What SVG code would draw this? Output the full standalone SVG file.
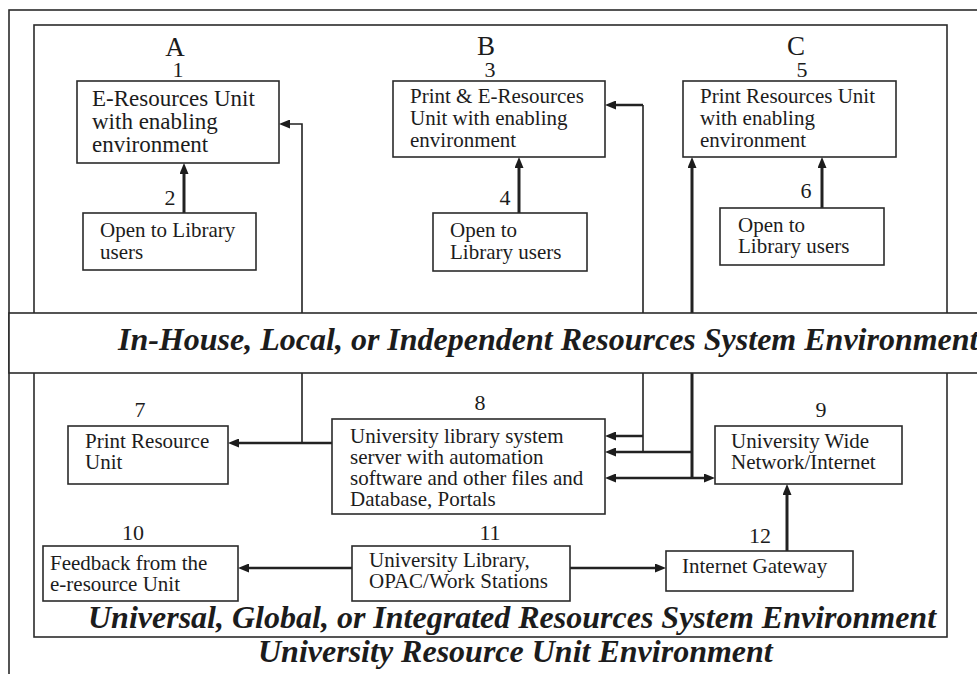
<svg xmlns="http://www.w3.org/2000/svg" width="977" height="674" viewBox="0 0 977 674">
<style>
text{font-family:"Liberation Serif","Times New Roman",serif;fill:#1c1c1c}
.t{font-size:21px}
.t1{font-size:23px}
.num{font-size:22px;text-anchor:middle}
.big{font-size:27px;text-anchor:middle}
.title{font-size:32px;font-weight:bold;font-style:italic}
.box{fill:#fff;stroke:#2b2b2b;stroke-width:1.6}
.frame{fill:none;stroke:#2b2b2b;stroke-width:1.6}
.band{fill:#fff;stroke:#2b2b2b;stroke-width:1.6}
.thin{fill:none;stroke:#222;stroke-width:1.6}
.mid{fill:none;stroke:#222;stroke-width:2.5}
.thick{fill:none;stroke:#222;stroke-width:3}
</style>
<defs>
<marker id="ah" viewBox="0 0 11 9" refX="5" refY="4.5" markerWidth="11" markerHeight="9" markerUnits="userSpaceOnUse" orient="auto-start-reverse">
<path d="M0,0 L11,4.5 L0,9 z" fill="#1c1c1c"/>
</marker>
</defs>
<rect class="frame" x="9" y="10" width="1000" height="700"/>
<rect class="frame" x="34" y="25" width="913" height="612"/>
<g id="connectors">
<path class="thick" d="M184,213 V169" marker-end="url(#ah)"/>
<path class="thick" d="M519,213 V163" marker-end="url(#ah)"/>
<path class="thick" d="M822,208 V163" marker-end="url(#ah)"/>
<path class="thin" d="M302,443 V124 H285" marker-end="url(#ah)"/>
<path class="mid" d="M332,443 H234" marker-end="url(#ah)"/>
<path class="thin" d="M643,452 V105"/>
<path class="mid" d="M643,105 H611" marker-end="url(#ah)"/>
<path class="mid" d="M643,436 H611" marker-end="url(#ah)"/>
<path class="mid" d="M692,452 H611" marker-end="url(#ah)"/>
<path class="thick" d="M692,478 V163" marker-end="url(#ah)"/>
<path class="mid" d="M611,478 H709" marker-start="url(#ah)" marker-end="url(#ah)"/>
<path class="thick" d="M787,551 V490" marker-end="url(#ah)"/>
<path class="mid" d="M352,568 H244" marker-end="url(#ah)"/>
<path class="mid" d="M570,568 H660" marker-end="url(#ah)"/>
</g>
<g id="band">
<rect class="band" x="9" y="313" width="1000" height="60"/>
<text class="title" x="118" y="350">In-House, Local, or Independent Resources System Environment</text>
</g>
<g id="labels">
<text class="big" x="175" y="56">A</text>
<text class="big" x="486" y="55">B</text>
<text class="big" x="796" y="55">C</text>
</g>
<g id="n1">
<text class="num" x="178" y="77">1</text>
<rect class="box" x="77" y="81" width="202" height="82"/>
<text class="t1" x="92" y="106">E-Resources Unit</text>
<text class="t1" x="92" y="129">with enabling</text>
<text class="t1" x="92" y="152">environment</text>
</g>
<g id="n2">
<text class="num" x="170" y="205">2</text>
<rect class="box" x="83" y="213" width="173" height="57"/>
<text class="t" x="100" y="237">Open to Library</text>
<text class="t" x="100" y="259">users</text>
</g>
<g id="n3">
<text class="num" x="490" y="77">3</text>
<rect class="box" x="393" y="81" width="212" height="76"/>
<text class="t" x="410" y="103">Print &amp; E-Resources</text>
<text class="t" x="410" y="125">Unit with enabling</text>
<text class="t" x="410" y="147">environment</text>
</g>
<g id="n4">
<text class="num" x="505" y="205">4</text>
<rect class="box" x="433" y="213" width="154" height="58"/>
<text class="t" x="450" y="237">Open to</text>
<text class="t" x="450" y="259">Library users</text>
</g>
<g id="n5">
<text class="num" x="802" y="77">5</text>
<rect class="box" x="683" y="81" width="213" height="76"/>
<text class="t" x="700" y="103">Print Resources Unit</text>
<text class="t" x="700" y="125">with enabling</text>
<text class="t" x="700" y="147">environment</text>
</g>
<g id="n6">
<text class="num" x="806" y="198">6</text>
<rect class="box" x="720" y="208" width="164" height="57"/>
<text class="t" x="738" y="232">Open to</text>
<text class="t" x="738" y="253">Library users</text>
</g>
<g id="n7">
<text class="num" x="140" y="417">7</text>
<rect class="box" x="68" y="426" width="160" height="58"/>
<text class="t" x="85" y="448">Print Resource</text>
<text class="t" x="85" y="469">Unit</text>
</g>
<g id="n8">
<text class="num" x="480" y="410">8</text>
<rect class="box" x="332" y="419" width="273" height="95"/>
<text class="t" x="350" y="443">University library system</text>
<text class="t" x="350" y="464">server with automation</text>
<text class="t" x="350" y="485">software and other files and</text>
<text class="t" x="350" y="506">Database, Portals</text>
</g>
<g id="n9">
<text class="num" x="821" y="417">9</text>
<rect class="box" x="715" y="426" width="187" height="58"/>
<text class="t" x="731" y="448">University Wide</text>
<text class="t" x="731" y="469">Network/Internet</text>
</g>
<g id="n10">
<text class="num" x="133" y="540">10</text>
<rect class="box" x="43" y="546" width="195" height="55"/>
<text class="t" x="50" y="570">Feedback from the</text>
<text class="t" x="50" y="591">e-resource Unit</text>
</g>
<g id="n11">
<text class="num" x="490" y="540">11</text>
<rect class="box" x="352" y="546" width="218" height="55"/>
<text class="t" x="369" y="567">University Library,</text>
<text class="t" x="369" y="588">OPAC/Work Stations</text>
</g>
<g id="n12">
<text class="num" x="760" y="543">12</text>
<rect class="box" x="666" y="551" width="187" height="40"/>
<text class="t" x="682" y="573">Internet Gateway</text>
</g>
<g id="titles">
<text class="title" x="88" y="628">Universal, Global, or Integrated Resources System Environment</text>
<text class="title" x="258" y="662">University Resource Unit Environment</text>
</g>
</svg>
